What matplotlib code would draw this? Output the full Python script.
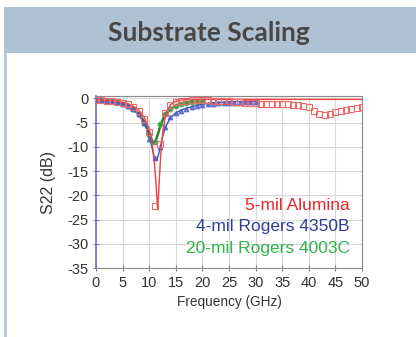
"""S22 vs frequency for three substrates, styled like the slide panel."""

import numpy as np
import matplotlib
matplotlib.use("Agg")
import matplotlib.pyplot as plt
from matplotlib.patches import Rectangle
from matplotlib.lines import Line2D

plt.rcParams["font.family"] = ["Liberation Sans", "DejaVu Sans"]
plt.rcParams["axes.unicode_minus"] = False

# measured points, 1 GHz steps
alumina_meas = [-0.3, -0.4, -0.5, -0.6, -0.7, -0.9, -1.2, -1.7, -2.6, -4.2, -7.0,
                -22.3, -9.5, -3.0, -1.4, -0.8, -0.6, -0.5, -0.4, -0.4, -0.4,
                -0.4, -0.5, -0.5, -0.6, -0.6, -0.7, -0.8, -0.9, -0.9, -1.0,
                -1.1, -1.1, -1.1, -1.2, -1.2, -1.2, -1.3, -1.4, -1.5, -1.8,
                -2.6, -3.2, -3.4, -3.2, -2.9, -2.6, -2.3, -2.1, -1.9, -1.7]
r4350_meas = [-0.3, -0.4, -0.5, -0.6, -0.8, -1.1, -1.5, -2.2, -3.3, -5.1, -8.4,
              -12.3, -10.0, -5.8, -3.9, -3.0, -2.5, -2.1, -1.8, -1.5, -1.3,
              -1.2, -1.1, -1.0, -1.0, -0.9, -0.9, -0.9, -0.8, -0.8, -0.8]
r4003_meas = [-0.3, -0.4, -0.5, -0.6, -0.8, -1.1, -1.5, -2.2, -3.3, -5.0, -7.6,
              -8.9, -5.3, -3.2, -2.2, -1.6, -1.2, -1.0, -0.8, -0.7, -0.6]

# simulated curves
alumina_sim_f = [0, 2, 4, 5, 6, 7, 8, 9, 10, 10.5, 11, 11.3, 11.6, 11.9, 12.2,
                 12.6, 13, 13.5, 14, 15, 16, 18, 20, 25, 30, 35, 40, 45, 50]
alumina_sim_db = [-0.3, -0.4, -0.6, -0.8, -1.1, -1.6, -2.4, -3.8, -6.2, -8.8,
                  -13.5, -18.0, -23.0, -17.0, -11.0, -6.5, -4.0, -2.3, -1.3,
                  -0.6, -0.3, -0.2, -0.2, -0.2, -0.2, -0.2, -0.2, -0.2, -0.2]
r4350_sim_f = [0, 2, 4, 6, 8, 9, 10, 10.5, 11, 11.3, 11.6, 12, 12.5, 13, 14,
               15, 16, 18, 20, 22, 25, 30]
r4350_sim_db = [-0.3, -0.5, -0.8, -1.4, -3.0, -4.6, -7.6, -10.0, -12.4, -12.8,
                -12.2, -10.5, -8.0, -6.0, -4.0, -3.0, -2.4, -1.7, -1.2, -0.9,
                -0.7, -0.6]
r4003_sim_f = [0, 2, 4, 6, 8, 9, 10, 10.5, 10.8, 11.2, 11.6, 12, 12.5, 13, 14,
               15, 16, 18, 20]
r4003_sim_db = [-0.3, -0.5, -0.8, -1.4, -3.2, -4.8, -7.2, -8.6, -9.3, -8.8,
                -7.5, -6.0, -4.5, -3.4, -2.2, -1.5, -1.1, -0.7, -0.5]

labels = ["5-mil Alumina", "4-mil Rogers 4350B", "20-mil Rogers 4003C"]
label_colors = ["#e8262b", "#2e3d98", "#2db34a"]

W, H = 416, 337
fig = plt.figure(figsize=(W / 100, H / 100), dpi=100)
fig.patch.set_facecolor("white")

# header band + left rule
fig.patches.append(Rectangle((4 / W, 1 - 53 / H), 1, 46 / H, transform=fig.transFigure,
                             facecolor="#afc2d3", edgecolor="none"))
fig.lines.append(Line2D([5 / W, 5 / W], [0, 1 - 53 / H], transform=fig.transFigure,
                        color="#b5c8d9", linewidth=2))
fig.text(209 / W, 1 - 33 / H, "Substrate Scaling", ha="center", va="center",
         fontsize=19, fontweight="bold", color="#474747", family=["Lato", "DejaVu Sans"])

ax = fig.add_axes([96 / W, 1 - 268 / H, 266 / W, 172 / H])
f_al = np.arange(len(alumina_meas))
f_4350 = np.arange(len(r4350_meas))
f_4003 = np.arange(len(r4003_meas))

ax.plot(r4003_sim_f, r4003_sim_db, color="#2f7a35", linewidth=1.8, zorder=3)
ax.plot(f_4003, r4003_meas, "o", color="#3aa34a", markersize=3.2, alpha=0.8, zorder=3)
ax.plot(r4350_sim_f, r4350_sim_db, color="#3b4fb0", linewidth=1.0, zorder=4)
ax.plot(f_4350, r4350_meas, "^", color="#5060c8", markersize=3.2, alpha=0.8, zorder=4)
ax.plot(alumina_sim_f, alumina_sim_db, color="#f04040", linewidth=1.0, zorder=5)
ax.plot(f_al, alumina_meas, "s", markerfacecolor="none", markeredgecolor="#ee6a6a",
        markersize=3.8, markeredgewidth=0.8, zorder=5)

ax.set_xlim(0, 50)
ax.set_ylim(-35, 0.5)
ax.set_xticks(np.arange(0, 51, 5))
ax.set_yticks(np.arange(-35, 1, 5))
ax.grid(True, color="#d8d8d8", linewidth=0.8)
ax.set_axisbelow(True)
ax.tick_params(direction="inout", length=5, width=0.8, color="#808080",
               labelsize=10.5, labelcolor="#333333", pad=3)
for side in ["top", "right", "bottom"]:
    ax.spines[side].set_color("#8a8a8a")
ax.spines["left"].set_color("#7070d0")
ax.spines["left"].set_linewidth(1.2)
ax.set_xlabel("Frequency (GHz)", fontsize=9.8, color="#333333", labelpad=4)
ax.set_ylabel("S22 (dB)", fontsize=11.5, color="#333333", labelpad=8)

for i, (lab, col) in enumerate(zip(labels, label_colors)):
    fig.text(350 / W, 1 - (205 + 21.5 * i) / H, lab, ha="right", va="center",
             fontsize=12.5, color=col)

fig.savefig("out.png", dpi=100, facecolor="white")
